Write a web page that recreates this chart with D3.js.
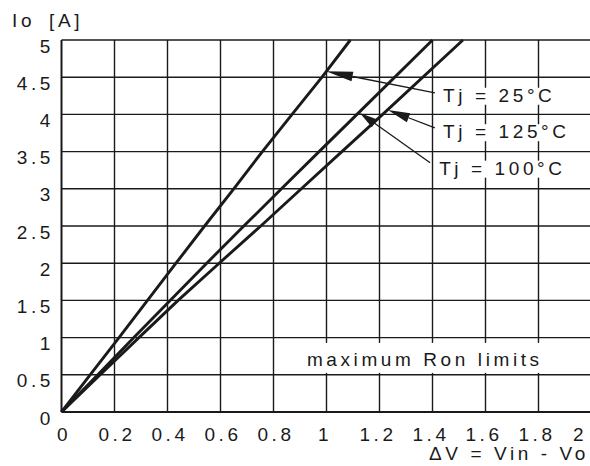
<!DOCTYPE html>
<html><head><meta charset="utf-8">
<script src="https://cdn.jsdelivr.net/npm/d3@7"></script>
<style>
html,body{margin:0;padding:0;background:#fff;}
svg{display:block;}
text{font-family:"Liberation Sans",Arial,sans-serif;font-size:19px;fill:#1a1a1a;letter-spacing:3.6px;}
</style></head>
<body><svg id="c" width="590" height="466"></svg>
<script>
// ---- data ----
const xTicks = [0, 0.2, 0.4, 0.6, 0.8, 1, 1.2, 1.4, 1.6, 1.8, 2];
const yTicks = [0, 0.5, 1, 1.5, 2, 2.5, 3, 3.5, 4, 4.5, 5];
const ioT25  = [0, 0.5, 1, 2, 2.5, 3, 3.5, 4, 4.5, 5];
const dvT25  = [0, 0.108, 0.217, 0.432, 0.54, 0.65, 0.758, 0.87, 0.983, 1.09];
const ioT100 = [0, 0.5, 1, 1.5, 2, 2.5, 3, 3.5, 4, 5];
const dvT100 = [0, 0.137, 0.273, 0.41, 0.548, 0.688, 0.83, 0.972, 1.115, 1.40];
const ioT125 = [0, 0.5, 1, 1.5, 2, 2.5, 3, 3.5, 4, 5];
const dvT125 = [0, 0.146, 0.292, 0.44, 0.595, 0.752, 0.905, 1.058, 1.212, 1.515];
const labels = ["Tj = 25°C", "Tj = 125°C", "Tj = 100°C"];
// annotation anchors in data units: [textX, textY, tailX, tailY, tipX, tipY]
const annot = [
  [1.44, 4.17, 1.409, 4.29, 0.998, 4.58],
  [1.44, 3.68, 1.409, 3.82, 1.232, 4.06],
  [1.425, 3.19, 1.391, 3.35, 1.126, 4.02]
];
const noteText = "maximum Ron limits";
const notePos = [0.926, 0.62];
const xTitle = "ΔV = Vin - Vo";
const yTitle = ["Io", "[A]"];

// ---- layout ----
const svg = d3.select("#c");
const x = d3.scaleLinear().domain([0, 2]).range([61.5, 591.5]);
const y = d3.scaleLinear().domain([0, 5]).range([412, 40]);
const ink = "#1a1a1a";

// grid
const g = svg.append("g");
g.selectAll("line.v").data(xTicks).join("line")
  .attr("x1", d => x(d)).attr("x2", d => x(d)).attr("y1", y(0)).attr("y2", y(5))
  .attr("stroke", ink).attr("stroke-width", d => d === 0 ? 2 : 1.4);
g.selectAll("line.h").data(yTicks).join("line")
  .attr("y1", d => y(d)).attr("y2", d => y(d)).attr("x1", x(0)).attr("x2", x(2))
  .attr("stroke", ink).attr("stroke-width", d => d === 0 ? 2 : 1.4);

// axes (labels only)
const xAxis = d3.axisBottom(x).tickValues(xTicks).tickSize(0).tickPadding(0)
  .tickFormat(d => String(d));
const xa = svg.append("g").attr("transform", `translate(0,${y(0)})`).call(xAxis);
xa.select(".domain").remove();
xa.selectAll(".tick text").attr("y", 29).attr("dy", 0).attr("fill", ink)
  .attr("font-size", 19).attr("font-family", null)
  .attr("dx", d => d === 2 ? -12 : (d >= 1 ? -2 : 2));

const yAxis = d3.axisLeft(y).tickValues(yTicks).tickSize(0).tickPadding(0)
  .tickFormat(d => String(d));
const ya = svg.append("g").attr("transform", `translate(${x(0)},0)`).call(yAxis);
ya.select(".domain").remove();
ya.selectAll(".tick text").attr("x", -7.5).attr("dy", 12).attr("fill", ink)
  .attr("font-size", 19).attr("font-family", null);

// white boxes + labels
const note = svg.append("g");
note.append("rect").attr("x", x(notePos[0]) - 7).attr("y", y(notePos[1]) - 23)
  .attr("width", 250).attr("height", 30).attr("fill", "#fff");
note.append("text").attr("x", x(notePos[0])).attr("y", y(notePos[1])).text(noteText);

annot.forEach((a, i) => {
  const lg = svg.append("g");
  const t = lg.append("text").attr("x", x(a[0])).attr("y", y(a[1])).text(labels[i]);
  const bb = t.node().getBBox();
  lg.insert("rect", ":first-child").attr("x", bb.x - 3).attr("y", bb.y + 3)
    .attr("width", bb.width + 2).attr("height", bb.height - 4).attr("fill", "#fff");
});

// series
const line = d3.line().x(d => x(d[0])).y(d => y(d[1]));
[[dvT25, ioT25], [dvT100, ioT100], [dvT125, ioT125]].forEach(([dv, io]) => {
  svg.append("path").datum(dv.map((v, i) => [v, io[i]]))
    .attr("d", line).attr("fill", "none").attr("stroke", ink)
    .attr("stroke-width", 2.9).attr("stroke-linejoin", "round");
});

// arrows
const headLen = [27, 22, 18];
annot.forEach((a, i) => {
  const x1 = x(a[2]), y1 = y(a[3]), x2 = x(a[4]), y2 = y(a[5]);
  const ang = Math.atan2(y2 - y1, x2 - x1);
  const L = headLen[i], W = 4.8;
  const bx = x2 - L * Math.cos(ang), by = y2 - L * Math.sin(ang);
  svg.append("line").attr("x1", x1).attr("y1", y1).attr("x2", bx).attr("y2", by)
    .attr("stroke", ink).attr("stroke-width", 1.3);
  const px = -Math.sin(ang) * W, py = Math.cos(ang) * W;
  svg.append("path")
    .attr("d", `M${x2},${y2}L${bx + px},${by + py}L${bx - px},${by - py}Z`)
    .attr("fill", ink);
});

// titles
svg.append("text").attr("x", 12).attr("y", 27).text(yTitle[0]);
svg.append("text").attr("x", 49).attr("y", 27).text(yTitle[1]);
svg.append("text").attr("x", 429).attr("y", 460).text(xTitle);
</script></body></html>
